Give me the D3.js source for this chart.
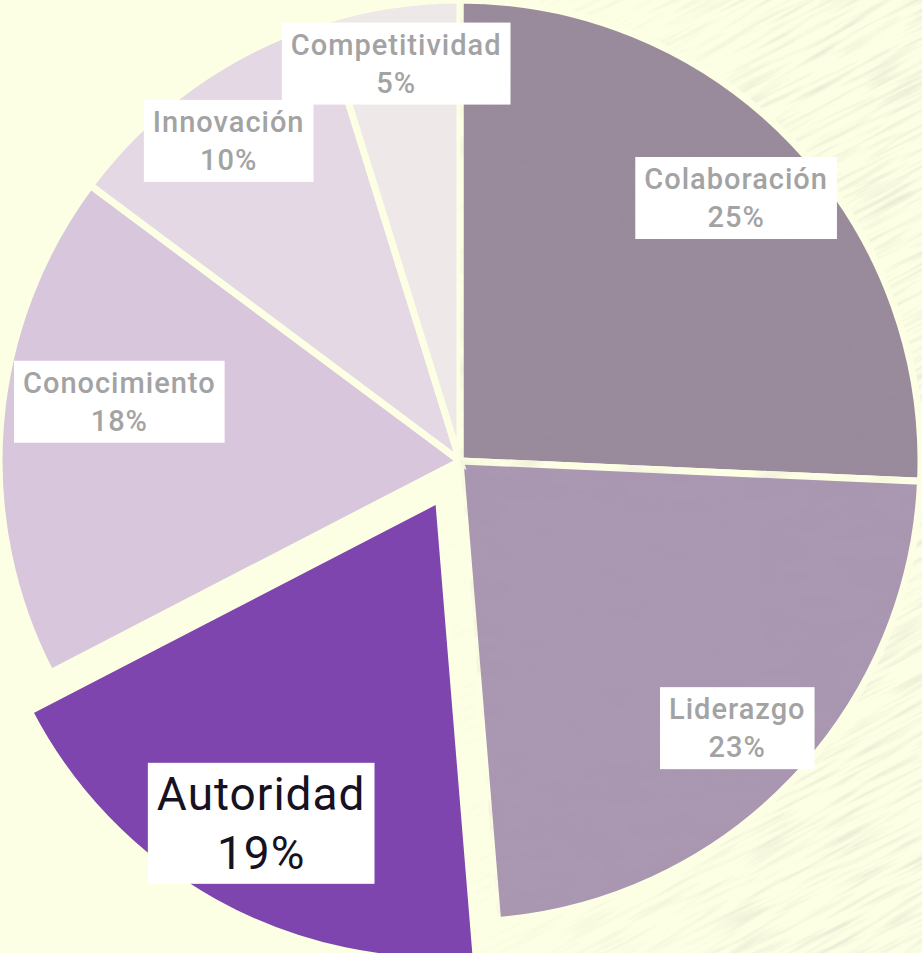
<!DOCTYPE html>
<html>
<head>
<meta charset="utf-8">
<script src="https://cdn.jsdelivr.net/npm/d3@7"></script>
<style>
  body { margin: 0; background: #fdffe4; }
  svg { display: block; }
</style>
</head>
<body>
<div id="chart"></div>
<script>
// Slices clockwise from 12 o'clock
var categories = ['Colaboración', 'Liderazgo', 'Autoridad', 'Conocimiento', 'Innovación', 'Competitividad'];
var shares = [25.7, 23.0, 18.7, 17.8, 10.0, 4.8];
var percentLabels = ['25%', '23%', '19%', '18%', '10%', '5%'];
var highlighted = 'Autoridad';
var sliceColors = ['#998b9b', '#aa97b1', '#7f45af', '#d8c7dc', '#e4d8e4', '#eee8e8'];

var width = 922;
var height = 953;
var cx = 460;
var cy = 461;
var radius = 461;
var explode = 44;
var bg = '#fdffe4';

// hand nudges so the label boxes sit where the original put them
var labelNudge = {
  'Conocimiento': [0, -28],
  'Competitividad': [-6, -17],
  'Innovación': [-9, -6],
  'Autoridad': [9, -13],
  'Colaboración': [-2, 3]
};

var color = d3.scaleOrdinal().domain(categories).range(sliceColors);

var svg = d3.select('#chart').append('svg')
  .attr('width', width)
  .attr('height', height)
  .attr('viewBox', '0 0 ' + width + ' ' + height);

// faint canvas texture, mostly on the right side of the background
var defs = svg.append('defs');
var grain = defs.append('filter').attr('id', 'grain')
  .attr('x', 0).attr('y', 0).attr('width', '100%').attr('height', '100%');
grain.append('feTurbulence')
  .attr('type', 'fractalNoise')
  .attr('baseFrequency', '0.015 0.22')
  .attr('numOctaves', 2)
  .attr('seed', 4);
grain.append('feColorMatrix')
  .attr('type', 'matrix')
  .attr('values', '0 0 0 0 0.55  0 0 0 0 0.55  0 0 0 0 0.5  0 0 0 -3 1.6');

var fade = defs.append('linearGradient').attr('id', 'fade')
  .attr('x1', 0).attr('x2', 1).attr('y1', 0).attr('y2', 0);
fade.append('stop').attr('offset', '0.45').attr('stop-color', '#fff').attr('stop-opacity', 0);
fade.append('stop').attr('offset', '0.9').attr('stop-color', '#fff').attr('stop-opacity', 1);
defs.append('mask').attr('id', 'fadeMask')
  .append('rect').attr('width', width).attr('height', height).attr('fill', 'url(#fade)');

// soft mottling for the two darker greyish slices
var mottle = defs.append('filter').attr('id', 'mottle')
  .attr('x', 0).attr('y', 0).attr('width', '100%').attr('height', '100%');
mottle.append('feTurbulence')
  .attr('type', 'fractalNoise')
  .attr('baseFrequency', '0.02 0.05')
  .attr('numOctaves', 3)
  .attr('seed', 9);
mottle.append('feColorMatrix')
  .attr('type', 'matrix')
  .attr('values', '0 0 0 0 0.35  0 0 0 0 0.28  0 0 0 0 0.38  0 0 0 -1.6 0.9');

svg.append('rect').attr('width', width).attr('height', height).attr('fill', bg);
svg.append('g').attr('mask', 'url(#fadeMask)')
  .append('rect')
  .attr('transform', 'rotate(-28 461 476)')
  .attr('x', -300).attr('y', -300).attr('width', 1500).attr('height', 1550)
  .attr('filter', 'url(#grain)')
  .attr('opacity', 0.3);

var data = categories.map(function(c, i) {
  return { name: c, value: shares[i], label: percentLabels[i] };
});

var pie = d3.pie().sort(null).value(function(d) { return d.value; });
var arcs = pie(data);

var arc = d3.arc().innerRadius(0).outerRadius(radius);
var labelArc = d3.arc().innerRadius(radius * 0.835).outerRadius(radius * 0.835);

function offsetOf(d) {
  if (d.data.name !== highlighted) return [0, 0];
  var mid = (d.startAngle + d.endAngle) / 2;
  return [Math.sin(mid) * explode, -Math.cos(mid) * explode];
}

var pieG = svg.append('g').attr('transform', 'translate(' + cx + ',' + cy + ')');

pieG.selectAll('path.slice')
  .data(arcs)
  .enter().append('path')
  .attr('class', 'slice')
  .attr('transform', function(d) {
    var o = offsetOf(d);
    return 'translate(' + o[0] + ',' + o[1] + ')';
  })
  .attr('d', arc)
  .attr('fill', function(d) { return color(d.data.name); })
  .attr('stroke', bg)
  .attr('stroke-width', 7)
  .attr('stroke-linejoin', 'miter');

// texture over the first two slices, clipped to their shapes
arcs.slice(0, 2).forEach(function(d, i) {
  defs.append('clipPath').attr('id', 'clip' + i)
    .append('path')
    .attr('transform', 'translate(' + cx + ',' + cy + ')')
    .attr('d', d3.arc().innerRadius(0).outerRadius(radius - 3.5)(d));
  svg.append('rect')
    .attr('clip-path', 'url(#clip' + i + ')')
    .attr('x', 0).attr('y', 0).attr('width', width).attr('height', height)
    .attr('filter', 'url(#mottle)')
    .attr('opacity', 0.18);
});

var labels = svg.append('g')
  .attr('transform', 'translate(' + cx + ',' + cy + ')')
  .selectAll('g.label')
  .data(arcs)
  .enter().append('g')
  .attr('class', 'label');

labels.each(function(d) {
  var g = d3.select(this);
  var big = d.data.name === highlighted;
  var fs = big ? 46 : 29;
  var lh = big ? 59 : 38;
  var o = offsetOf(d);
  var c = labelArc.centroid(d);
  var n = labelNudge[d.data.name] || [0, 0];
  var x = c[0] + o[0] + n[0];
  var y = c[1] + o[1] + n[1];

  var text = g.append('text')
    .attr('text-anchor', 'middle')
    .attr('font-family', 'Roboto, "DejaVu Sans", sans-serif')
    .attr('font-size', fs)
    .attr('font-weight', big ? 400 : 500)
    .attr('letter-spacing', big ? 1 : 1)
    .attr('fill', big ? '#17121f' : '#a3a3a3');
  text.append('tspan').attr('x', 0).attr('y', -lh / 2).attr('dy', '0.35em').text(d.data.name);
  text.append('tspan').attr('x', 0).attr('y', lh / 2).attr('dy', '0.35em').text(d.data.label);

  var bb = text.node().getBBox();
  var padX = 9;
  var padY = big ? 4 : 5;
  var w = bb.width + padX * 2;
  var h = bb.height + padY * 2;

  // keep boxes inside the picture
  var minX = -cx + 14 + w / 2;
  var maxX = width - cx - 14 - w / 2;
  x = Math.max(minX, Math.min(maxX, x));

  g.insert('rect', 'text')
    .attr('x', bb.x - padX)
    .attr('y', bb.y - padY)
    .attr('width', w)
    .attr('height', h)
    .attr('fill', '#ffffff');
  g.attr('transform', 'translate(' + x + ',' + y + ')');
});
</script>
</body>
</html>
